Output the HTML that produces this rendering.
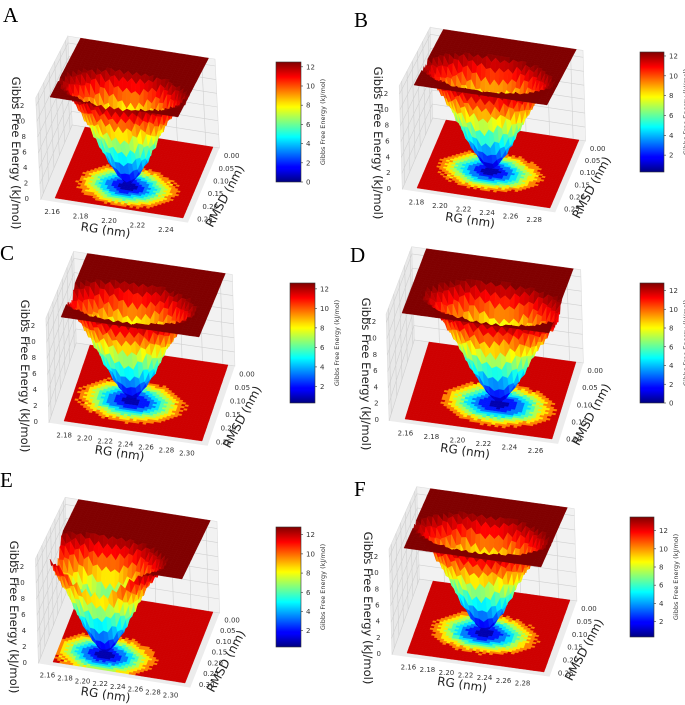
<!DOCTYPE html>
<html><head><meta charset="utf-8"><style>
html,body{margin:0;padding:0;background:#fff;}
svg{display:block;font-family:"DejaVu Sans","Liberation Sans",sans-serif;}
</style></head><body>
<svg id="fig" width="685" height="705" viewBox="0 0 685 705" xmlns="http://www.w3.org/2000/svg">
<defs>
<linearGradient id="jetGrad" x1="0" y1="1" x2="0" y2="0">
<stop offset="0" stop-color="#000080"/><stop offset="0.11" stop-color="#0000ff"/><stop offset="0.125" stop-color="#0000ff"/>
<stop offset="0.34" stop-color="#00dcff"/><stop offset="0.375" stop-color="#00ffff"/><stop offset="0.5" stop-color="#80ff80"/>
<stop offset="0.625" stop-color="#ffff00"/><stop offset="0.66" stop-color="#ffe000"/><stop offset="0.875" stop-color="#ff0000"/><stop offset="1" stop-color="#800000"/>
</linearGradient>
</defs>
</svg>
<script>
// energy profile vs normalised radius from basin centre (read from the surfaces)
const profileR=[0,0.1,0.2,0.3,0.4,0.5,0.6,0.7,0.8,0.9,1.0,1.1];
const profileE=[0.3,0.8,1.8,3.0,4.4,6.0,7.6,9.0,10.3,11.4,12.3,13];
const spikes=[0.12,-0.15,0.2,-0.1,0.15,-0.2,0.05,-0.12,0.18,-0.08,0.12,-0.18,0.2,-0.05,0.1,-0.15,0.16,-0.1,0.08,-0.2,0.14,-0.06,0.1,-0.14];
const panelNames=["A","B","C","D","E","F"];
const rgTicksA=[2.16,2.18,2.20,2.22,2.24];
const rgTicksB=[2.18,2.20,2.22,2.24,2.26,2.28];
const rgTicksC=[2.18,2.20,2.22,2.24,2.26,2.28,2.30];
const rgTicksD=[2.16,2.18,2.20,2.22,2.24,2.26];
const rgTicksE=[2.16,2.18,2.20,2.22,2.24,2.26,2.28,2.30];
const rgTicksF=[2.16,2.18,2.20,2.22,2.24,2.26,2.28];
const rmsdTicks25=[0.00,0.05,0.10,0.15,0.20,0.25];
const rmsdTicks20=[0.00,0.05,0.10,0.15,0.20];
const rmsdTicks30=[0.00,0.05,0.10,0.15,0.20,0.25,0.30];
const zTicks=[0,2,4,6,8,10,12];
const cbTicks0=[0,2,4,6,8,10,12];
const cbTicks2=[2,4,6,8,10,12];
const basinCentreU=[0.50,0.47,0.42,0.58,0.35,0.49];
const basinCentreV=[0.70,0.62,0.63,0.66,0.80,0.60];

const panels=[
 {O:[85,127],U:[128,20],V:[-30,71],W:[-5,-101],lab:[3,22],cb:[276,62,25,120],cbR:[0,12.5],cbT:cbTicks0,rg:[2.155,2.245],rgT:rgTicksA,rm:[-0.02,0.26],rmT:rmsdTicks25},
 {O:[446,120],U:[133,20],V:[-29,68],W:[-3,-103],lab:[354,27],cb:[640,52,24,120],cbR:[0.3,12.4],cbT:cbTicks2,rg:[2.172,2.285],rgT:rgTicksB,rm:[-0.02,0.26],rmT:rmsdTicks25},
 {O:[90,345],U:[138,20],V:[-26,76],W:[-3,-104],lab:[0,260],cb:[290,283,25,120],cbR:[0.3,12.6],cbT:cbTicks2,rg:[2.17,2.305],rgT:rgTicksC,rm:[-0.02,0.26],rmT:rmsdTicks25},
 {O:[429,342],U:[147,20],V:[-24,77],W:[-3,-106],lab:[350,262],cb:[640,283,24,120],cbR:[0,12.8],cbT:cbTicks0,rg:[2.152,2.265],rgT:rgTicksD,rm:[-0.015,0.21],rmT:rmsdTicks20},
 {O:[81,591],U:[132,21],V:[-28,71],W:[-3,-104],lab:[0,487],cb:[276,527,25,120],cbR:[0.3,12.8],cbT:cbTicks2,rg:[2.155,2.305],rgT:rgTicksE,rm:[-0.02,0.31],rmT:rmsdTicks30},
 {O:[433,581],U:[137,19],V:[-26,72],W:[-3,-105],lab:[354,496],cb:[630,517,24,120],cbR:[0.3,13.5],cbT:cbTicks2,rg:[2.148,2.292],rgT:rgTicksF,rm:[-0.02,0.26],rmT:rmsdTicks25}
];
const RU=0.45, RV=0.28;
const NS="http://www.w3.org/2000/svg";
const svg=document.getElementById("fig");
function mk(tag,attrs,parent){const e=document.createElementNS(NS,tag);for(const k in attrs)e.setAttribute(k,attrs[k]);parent.appendChild(e);return e;}
function jet(t){t=Math.max(0,Math.min(1,t));const c=x=>Math.round(255*Math.max(0,Math.min(1,1.5-Math.abs(4*t-x))));return `rgb(${c(3)},${c(2)},${c(1)})`;}
function profile(r){if(r<=profileR[0])return profileE[0];for(let k=1;k<profileR.length;k++){if(r<=profileR[k]){const f=(r-profileR[k-1])/(profileR[k]-profileR[k-1]);return profileE[k-1]+f*(profileE[k]-profileE[k-1]);}}return profileE[profileE.length-1];}
const N=30;
panels.forEach((p,pi)=>{
 const g=mk("g",{},svg);
 
 
 const P=(u,v,w)=>{const s=w*(0.88+0.12*v);return [p.O[0]+u*p.U[0]+v*p.V[0]+s*p.W[0],p.O[1]+u*p.U[1]+v*p.V[1]+s*p.W[1]];};
 const pts=a=>a.map(q=>q[0].toFixed(1)+","+q[1].toFixed(1)).join(" ");
 const back=mk("polygon",{points:pts([P(-0.1,0,0),P(1.05,0,0),P(1.05,0,1),P(-0.1,0,1)]),fill:"#f2f2f2",stroke:"#ddd","stroke-width":0.6},g);
 
 const left=mk("polygon",{points:pts([P(-0.1,0,0),P(-0.1,1.05,0),P(-0.1,1.05,1),P(-0.1,0,1)]),fill:"#e9e9e9",stroke:"#ddd","stroke-width":0.6},g);
 
 const floorPane=mk("polygon",{points:pts([P(-0.1,0,0),P(1.05,0,0),P(1.05,1.05,0),P(-0.1,1.05,0)]),fill:"#ececec"},g);
 
 zTicks.forEach(z=>{const w=z/13;const a=P(-0.1,0,w),b=P(1.05,0,w),c=P(-0.1,1.05,w);
  mk("polyline",{points:pts([c,a,b]),fill:"none",stroke:"#d0d0d0","stroke-width":0.6},g);});
 p.rgT.forEach(t=>{const u=(t-p.rg[0])/(p.rg[1]-p.rg[0]);mk("line",{x1:P(u,0,0)[0],y1:P(u,0,0)[1],x2:P(u,0,1)[0],y2:P(u,0,1)[1],stroke:"#d0d0d0","stroke-width":0.6},g);});
 p.rmT.forEach(t=>{const v=(t-p.rm[0])/(p.rm[1]-p.rm[0]);mk("line",{x1:P(-0.1,v,0)[0],y1:P(-0.1,v,0)[1],x2:P(-0.1,v,1)[0],y2:P(-0.1,v,1)[1],stroke:"#d0d0d0","stroke-width":0.6},g);});
 const cu=basinCentreU[pi],cv=basinCentreV[pi];
 const Eg=[];
 for(let j=0;j<=N;j++){Eg[j]=[];for(let i=0;i<=N;i++){const u=i/N,v=j/N;const dx=(u-cu)/RU,dy=(v-cv)/RV;let r=Math.sqrt(dx*dx+dy*dy);r*=1+0.3*spikes[(i*5+j*11)%24];Eg[j][i]=Math.min(13,profile(r));}}
 const fl=mk("g",{},g);
 const M=40;
 for(let j=0;j<M;j++)for(let i=0;i<M;i++){const u=(i+0.5)/M,v=(j+0.5)/M;const dx=(u-cu)/(RU*1.2),dy=(v-cv)/(RV*1.4);let r=Math.sqrt(dx*dx+dy*dy)*1.15;r*=1+0.25*spikes[(i*7+j*3)%24];let e=Math.min(12,profile(r));e=Math.floor(e/1.3)*1.3+0.6;if(e>10.5)e=12;
  mk("polygon",{points:pts([P(i/M,j/M,0),P((i+1)/M,j/M,0),P((i+1)/M,(j+1)/M,0),P(i/M,(j+1)/M,0)]),fill:jet(e/13),stroke:jet(e/13),"stroke-width":0.4},fl);}
 const sf=mk("g",{},g);
 for(let j=0;j<N;j++)for(let i=0;i<N;i++){const e=[Eg[j][i],Eg[j][i+1],Eg[j+1][i+1],Eg[j+1][i]];const avg=(e[0]+e[1]+e[2]+e[3])/4;const col=avg>12.8?"#800000":jet(avg/13);
  mk("polygon",{points:pts([P(i/N,j/N,e[0]/13),P((i+1)/N,j/N,e[1]/13),P((i+1)/N,(j+1)/N,e[2]/13),P(i/N,(j+1)/N,e[3]/13)]),fill:col,stroke:col,"stroke-width":0.4},sf);}
 const fl0=P(0,1,0);
 zTicks.forEach(z=>{const q=P(0,1,z/13);const t=mk("text",{x:q[0]-26,y:q[1]+3,"font-size":7,"text-anchor":"end",fill:"#333"},g);t.textContent=z;
  });
 const zl=mk("text",{x:0,y:0,"font-size":11.5,"text-anchor":"middle",fill:"#222",transform:`translate(${fl0[0]-43},${fl0[1]-45}) rotate(90)`},g);zl.textContent="Gibbs Free Energy (kJ/mol)";
 
 p.rgT.forEach(t=>{const u=(t-p.rg[0])/(p.rg[1]-p.rg[0]);const q=P(u,1,0);const e=mk("text",{x:q[0]-10,y:q[1]+15,"font-size":7,"text-anchor":"middle",fill:"#333"},g);e.textContent=t.toFixed(2);
  });
 const mid=P(0.5,1,0);
 const xl=mk("text",{x:0,y:0,"font-size":12,"text-anchor":"middle",fill:"#222",transform:`translate(${mid[0]-14},${mid[1]+26}) rotate(8)`},g);xl.textContent="RG (nm)";
 
 p.rmT.forEach(t=>{const v=(t-p.rm[0])/(p.rm[1]-p.rm[0]);const q=P(1,v,0);const e=mk("text",{x:q[0]+13,y:q[1]+6,"font-size":7,"text-anchor":"start",fill:"#333"},g);e.textContent=t.toFixed(2);
  });
 const mr=P(1,0.55,0);
 const yl=mk("text",{x:0,y:0,"font-size":12,"text-anchor":"middle",fill:"#222",transform:`translate(${mr[0]+32},${mr[1]+12}) rotate(-62)`},g);yl.textContent="RMSD (nm)";
 
 const [cx,cy,cw,ch]=p.cb;
 const cb=mk("rect",{x:cx,y:cy,width:cw,height:ch,fill:"url(#jetGrad)",stroke:"#333","stroke-width":0.6},g);
 
 p.cbT.forEach(t=>{const y=cy+ch-(t-p.cbR[0])/(p.cbR[1]-p.cbR[0])*ch;mk("line",{x1:cx+cw,y1:y,x2:cx+cw+2,y2:y,stroke:"#333","stroke-width":0.6},g);
  const e=mk("text",{x:cx+cw+5,y:y+2.5,"font-size":7,fill:"#333"},g);e.textContent=t;
  });
 const cl=mk("text",{x:0,y:0,"font-size":6.5,"text-anchor":"middle",fill:"#333",transform:`translate(${cx+cw+24},${cy+ch/2}) rotate(-90)`},g);cl.textContent="Gibbs Free Energy (kJ/mol)";
 
 const L=mk("text",{x:p.lab[0],y:p.lab[1],"font-size":21,fill:"#000","font-family":"Liberation Serif, serif"},g);L.textContent=panelNames[pi];
 
});
</script>
</body></html>
